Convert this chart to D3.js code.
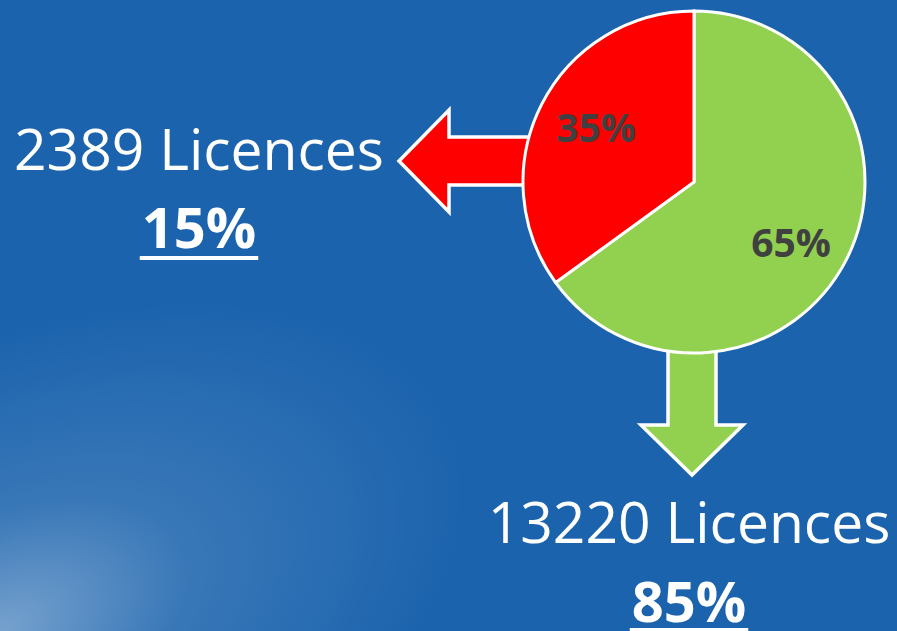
<!DOCTYPE html>
<html>
<head>
<meta charset="utf-8">
<script src="https://cdn.jsdelivr.net/npm/d3@7"></script>
<style>
  html, body { margin: 0; padding: 0; background: #1b63ad; }
  svg { display: block; }
</style>
</head>
<body>
<svg width="897" height="631"></svg>
<script>
// slice data (as labelled on the pie)
const sliceNames = ['green', 'red'];
const sliceValues = [65, 35];
const sliceColors = ['#92d050', '#ff0000'];
// callout data
const licenceCounts = [2389, 13220];
const licenceShares = [15, 85];

const W = 897, H = 631;
const svg = d3.select('svg');

// background with the soft light corner
const defs = svg.append('defs');
const glow = defs.append('radialGradient')
  .attr('id', 'glow')
  .attr('gradientUnits', 'userSpaceOnUse')
  .attr('cx', 0).attr('cy', H).attr('r', 400)
  .attr('gradientTransform', 'translate(0,' + H + ') rotate(-25) scale(1.25,0.7) translate(0,' + (-H) + ')');
glow.append('stop').attr('offset', '0%').attr('stop-color', '#ffffff').attr('stop-opacity', 0.4);
glow.append('stop').attr('offset', '40%').attr('stop-color', '#ffffff').attr('stop-opacity', 0.13);
glow.append('stop').attr('offset', '100%').attr('stop-color', '#ffffff').attr('stop-opacity', 0);

svg.append('rect').attr('width', W).attr('height', H).attr('fill', '#1b63ad');
svg.append('rect').attr('width', W).attr('height', H).attr('fill', 'url(#glow)');

const cx = 694, cy = 182, r = 171;
const g = svg.append('g');

// arrows (behind pie)
var bodyHalf = 24, headHalf = 51, headLen = 50;
// left red arrow
var tipX = 399, ay = 161;
var redArrow = [
  [tipX, ay],
  [tipX + headLen, ay - headHalf],
  [tipX + headLen, ay - bodyHalf],
  [cx - r + 20, ay - bodyHalf],
  [cx - r + 20, ay + bodyHalf],
  [tipX + headLen, ay + bodyHalf],
  [tipX + headLen, ay + headHalf]
];
g.append('path')
  .attr('d', d3.line()(redArrow) + 'Z')
  .attr('fill', sliceColors[1])
  .attr('stroke', '#fff')
  .attr('stroke-width', 3.5)
  .attr('stroke-linejoin', 'miter');

// down green arrow
var ax = 692, tipY = 475;
var greenArrow = [
  [ax, tipY],
  [ax - headHalf, tipY - headLen],
  [ax - bodyHalf, tipY - headLen],
  [ax - bodyHalf, cy + r - 20],
  [ax + bodyHalf, cy + r - 20],
  [ax + bodyHalf, tipY - headLen],
  [ax + headHalf, tipY - headLen]
];
g.append('path')
  .attr('d', d3.line()(greenArrow) + 'Z')
  .attr('fill', sliceColors[0])
  .attr('stroke', '#fff')
  .attr('stroke-width', 3.5)
  .attr('stroke-linejoin', 'miter');

// pie
var pie = d3.pie().sort(null)(sliceValues);
var arc = d3.arc().innerRadius(0).outerRadius(r);
var pg = g.append('g').attr('transform', 'translate(' + cx + ',' + cy + ')');
pg.selectAll('path')
  .data(pie)
  .enter()
  .append('path')
  .attr('d', arc)
  .attr('fill', function(d, i) { return sliceColors[i]; })
  .attr('stroke', '#fff')
  .attr('stroke-width', 3);

// slice labels
var labelPos = [[97, 75], [-98, -40]]; // offsets from center
pg.selectAll('text')
  .data(pie)
  .enter()
  .append('text')
  .attr('x', function(d, i) { return labelPos[i][0]; })
  .attr('y', function(d, i) { return labelPos[i][1]; })
  .attr('text-anchor', 'middle')
  .attr('font-family', 'Open Sans, sans-serif')
  .attr('font-weight', 'bold')
  .attr('font-size', 39)
  .attr('fill', '#404040')
  .text(function(d) { return d.data + '%'; });

// callouts
var callouts = [
  { x: 199, y1: 170, y2: 248, uy: 256 },
  { x: 689, y1: 543, y2: 622, uy: 628 }
];
callouts.forEach(function(c, i) {
  g.append('text')
    .attr('x', c.x).attr('y', c.y1)
    .attr('text-anchor', 'middle')
    .attr('font-family', 'Open Sans, sans-serif')
    .attr('font-size', 57)
    .attr('fill', '#fff')
    .text(licenceCounts[i] + ' Licences');
  var t = g.append('text')
    .attr('x', c.x).attr('y', c.y2)
    .attr('text-anchor', 'middle')
    .attr('font-family', 'Open Sans, sans-serif')
    .attr('font-weight', 'bold')
    .attr('font-size', 56)
    .attr('fill', '#fff')
    .text(licenceShares[i] + '%');
  var bb = t.node().getBBox();
  g.append('rect')
    .attr('x', bb.x - 2).attr('y', c.uy)
    .attr('width', bb.width + 4).attr('height', 4)
    .attr('fill', '#fff');
});
</script>
</body>
</html>
